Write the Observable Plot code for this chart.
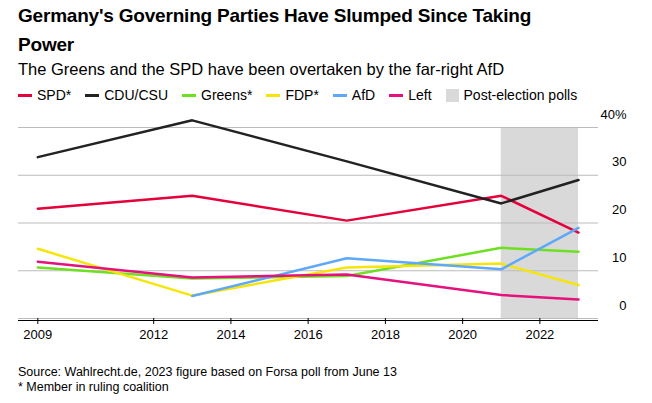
<!DOCTYPE html>
<html><head><meta charset="utf-8">
<script src="https://cdn.jsdelivr.net/npm/d3@7"></script>
<script src="https://cdn.jsdelivr.net/npm/@observablehq/plot@0.6"></script>
<style>
body{margin:0;background:#fff;font-family:"Liberation Sans",Arial,sans-serif;color:#000}
#wrap{padding:1px 0 0 18px}
h1{font-size:19px;font-weight:bold;margin:0;line-height:29px;letter-spacing:-0.2px;width:560px}
.sub{font-size:16.5px;margin:0 0 6px;line-height:20px}
.leg{font-size:14px;display:flex;gap:14px;align-items:center;height:20px}
.leg span{display:flex;align-items:center;gap:5px}
.sw{display:inline-block;width:14px;height:3px}
.box{display:inline-block;width:13px;height:13px;background:#d9d9d9}
.cap{font-size:12.5px;line-height:15px;margin-top:15px}
#chart svg{margin-left:-18px;display:block;max-width:none}
</style></head><body>
<div id="wrap">
<h1>Germany's Governing Parties Have Slumped Since Taking Power</h1>
<div class="sub">The Greens and the SPD have been overtaken by the far-right AfD</div>
<div class="leg" id="leg"></div>
<div id="chart"></div>
<div class="cap">Source: Wahlrecht.de, 2023 figure based on Forsa poll from June 13<br>* Member in ruling coalition</div>
</div>
<script>
const years = [2009, 2013, 2017, 2021, 2023];
const parties = ["SPD*", "CDU/CSU", "Greens*", "FDP*", "AfD", "Left"];
const colors = ["#e4003a", "#222222", "#6ee021", "#f5e50a", "#5ea8f7", "#e5127d"];
const spd = [23.0, 25.7, 20.5, 25.7, 18];
const cdu = [33.8, 41.5, 32.9, 24.1, 29];
const greens = [10.7, 8.4, 8.9, 14.8, 14];
const fdp = [14.6, 4.8, 10.7, 11.5, 7];
const afd = [null, 4.7, 12.6, 10.3, 19];
const left = [11.9, 8.6, 9.2, 4.9, 4];
const yTicks = [0, 10, 20, 30, 40];
const xTicks = [2009, 2012, 2014, 2016, 2018, 2020, 2022];
const pollSpan = [2021, 2023];

const series = [spd, cdu, greens, fdp, afd, left];
const data = [];
series.forEach((s, i) => s.forEach((v, j) => { if (v != null) data.push({party: parties[i], year: years[j], value: v}); }));

const leg = document.getElementById("leg");
parties.forEach((p, i) => { leg.innerHTML += `<span><i class="sw" style="background:${colors[i]}"></i>${p}</span>`; });
leg.innerHTML += `<span><i class="box"></i>Post-election polls</span>`;

const chart = Plot.plot({
  width: 652, height: 245,
  marginLeft: 18, marginRight: 74, marginTop: 22, marginBottom: 32,
  style: {fontFamily: "Liberation Sans, Arial, sans-serif", fontSize: "13px", color: "#000"},
  x: {domain: [2008.5, 2023], label: null},
  y: {domain: [0, 40], label: null, axis: null},
  color: {domain: parties, range: colors},
  marks: [
    Plot.rectY([pollSpan], {x1: d => d[0], x2: d => d[1], y1: 0, y2: 40, fill: "#d9d9d9"}),
    Plot.ruleY(yTicks, {stroke: "#bbb", strokeWidth: 1, insetRight: -20}),
    Plot.text(yTicks, {y: d => d, text: d => d === 40 ? "40%" : String(d), frameAnchor: "right", dx: 48, dy: -13, textAnchor: "end", fontSize: 13}),
    Plot.ruleY([0], {stroke: "#000", insetRight: -20, dy: 2}),
    Plot.axisX({ticks: xTicks, tickFormat: d => String(d), tickSize: 6, tickPadding: 5, stroke: "#000", fontSize: 13}),
    Plot.line(data, {x: "year", y: "value", z: "party", stroke: "party", strokeWidth: 2.5})
  ]
});
document.getElementById("chart").appendChild(chart);
</script>
</body></html>
